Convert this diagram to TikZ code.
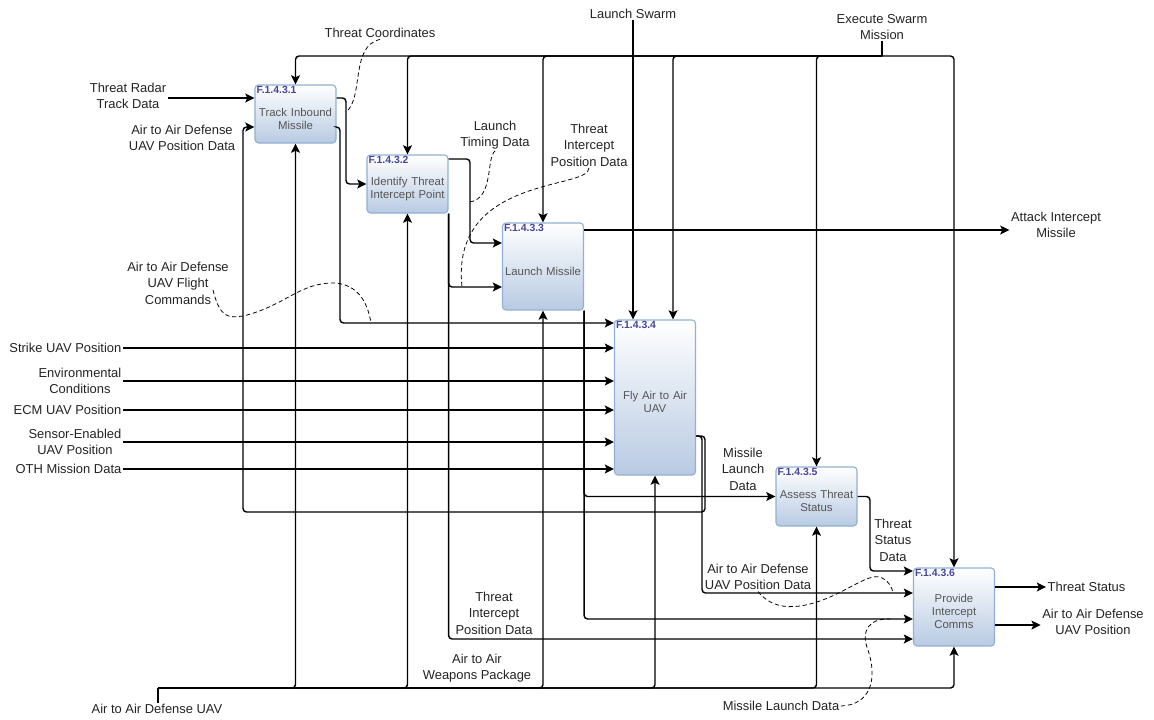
\documentclass[tikz,border=0pt]{standalone}
\usepackage{fontspec}
\setmainfont{Liberation Sans}
\usetikzlibrary{arrows.meta}

\definecolor{boxline}{RGB}{146,176,214}
\definecolor{boxbottom}{RGB}{184,202,226}
\definecolor{idblue}{RGB}{70,70,158}
\definecolor{boxtext}{RGB}{85,85,85}
\definecolor{lbltext}{RGB}{35,35,35}

\begin{document}
\begin{tikzpicture}[x=0.025cm, y=-0.025cm]
    % Stili
    \tikzstyle{func}=[rectangle, draw=boxline, line width=0.8pt, rounded corners=2.5pt, top color=white, bottom color=boxbottom, text=boxtext, text width=1.95cm, align=center, font=\fontsize{8.1}{9.2}\selectfont, minimum width=2.025cm, inner sep=1pt, execute at begin node=\rule{0pt}{12.5pt}]
    \tikzstyle{fid}=[anchor=north west, text=idblue, font=\fontsize{7.4}{7.6}\selectfont\bfseries, inner sep=1.3pt]
    \tikzstyle{lbl}=[align=center, text=lbltext, font=\fontsize{9.2}{11.7}\selectfont, inner sep=1pt]
    \tikzstyle{flow}=[-{Stealth[length=6.5pt, width=6.3pt, inset=1.4pt]}, line width=1pt, rounded corners=2.5pt]
    \tikzstyle{tie}=[line width=1pt, rounded corners=2.5pt]
    \tikzstyle{squig}=[densely dashed, line width=0.55pt]

    \useasboundingbox (0,0) rectangle (1154,719);

    % Funzioni
    \node[func, minimum height=1.45cm] (b1) at (295.5,114) {Track Inbound\\Missile};
    \node[func, minimum height=1.45cm] (b2) at (407.5,184) {Identify Threat\\Intercept Point};
    \node[func, minimum height=2.175cm] (b3) at (543,266.5) {Launch Missile};
    \node[func, minimum height=3.875cm] (b4) at (655,397.5) {Fly Air to Air\\UAV};
    \node[func, minimum height=1.475cm] (b5) at (816.5,496.5) {Assess Threat\\Status};
    \node[func, minimum height=1.95cm] (b6) at (954,607) {Provide\\Intercept\\Comms};
    \node[fid] (b1id) at (b1.north west) {F.1.4.3.1};
    \node[fid] (b2id) at (b2.north west) {F.1.4.3.2};
    \node[fid] (b3id) at (b3.north west) {F.1.4.3.3};
    \node[fid] (b4id) at (b4.north west) {F.1.4.3.4};
    \node[fid] (b5id) at (b5.north west) {F.1.4.3.5};
    \node[fid] (b6id) at (b6.north west) {F.1.4.3.6};

    % Etichette
    \node[lbl] (lRadar) at (128,96) {Threat Radar\\Track Data};
    \node[lbl] (lPosB1) at (182,138) {Air to Air Defense\\UAV Position Data};
    \node[lbl] (lCoord) at (380,33) {Threat Coordinates};
    \node[lbl] (lTiming) at (495,135) {Launch\\Timing Data};
    \node[lbl] (lTIP1) at (589,145) {Threat\\Intercept\\Position Data};
    \node[lbl] (lSwarm) at (633,14) {Launch Swarm};
    \node[lbl] (lExec) at (882,27) {Execute Swarm\\Mission};
    \node[lbl] (lAttack) at (1056,225) {Attack Intercept\\Missile};
    \node[lbl] (lFlight) at (178,283) {Air to Air Defense\\UAV Flight\\Commands};
    \node[lbl, anchor=east] (lStrike) at (123,348) {Strike UAV Position};
    \node[lbl, anchor=east] (lEnv) at (123,381) {Environmental\\Conditions};
    \node[lbl, anchor=east] (lECM) at (123,410) {ECM UAV Position};
    \node[lbl, anchor=east] (lSensor) at (123,442) {Sensor-Enabled\\UAV Position};
    \node[lbl, anchor=east] (lOTH) at (123,469) {OTH Mission Data};
    \node[lbl] (lMLD1) at (743,469) {Missile\\Launch\\Data};
    \node[lbl] (lTSD) at (893,540) {Threat\\Status\\Data};
    \node[lbl] (lPosB6) at (758,577) {Air to Air Defense\\UAV Position Data};
    \node[lbl, anchor=west] (lTS) at (1046,587) {Threat Status};
    \node[lbl] (lPosOut) at (1093,622) {Air to Air Defense\\UAV Position};
    \node[lbl] (lTIP2) at (494,613) {Threat\\Intercept\\Position Data};
    \node[lbl] (lWeapons) at (477,668) {Air to Air\\Weapons Package};
    \node[lbl] (lMLD2) at (781,706) {Missile Launch Data};
    \node[lbl] (lUAV) at (157,709) {Air to Air Defense UAV};

    % Punti di aggancio
    \coordinate (cExec) at (882,56);
    \coordinate (cUAV) at (158,688);
    \coordinate (sCoord) at (346,112);
    \coordinate (sTiming) at (470,202);
    \coordinate (sTIP1) at (462,287);
    \coordinate (sFlightA) at (213,290);
    \coordinate (sFlight) at (371,323);
    \coordinate (sPosB6) at (893,593);
    \coordinate (sMLD2) at (890,619);

    % Controlli dall'alto
    \draw[tie] (lExec.south) -- (cExec);
    \draw[flow] (cExec) -| (b1.north);
    \draw[flow] (cExec) -| (b2.north);
    \draw[flow] (cExec) -| (b3.north);
    \draw[flow] (cExec) -| (b4.north -| 673,0);
    \draw[flow] (cExec) -| (b5.north);
    \draw[flow] (cExec) -| (b6.north);
    \draw[flow] (lSwarm.south) -- (lSwarm.south |- b4.north);

    % Ingressi
    \draw[flow] (lRadar.east |- 0,98) -- (b1.west |- 0,98);
    \draw[flow] (lStrike.east) -- (lStrike.east -| b4.west);
    \draw[flow] (lEnv.east) -- (lEnv.east -| b4.west);
    \draw[flow] (lECM.east) -- (lECM.east -| b4.west);
    \draw[flow] (lSensor.east) -- (lSensor.east -| b4.west);
    \draw[flow] (lOTH.east) -- (lOTH.east -| b4.west);

    % Frecce tra funzioni
    \draw[flow] (b1.east |- 0,98) -| (b2.west -| 346,0) -- (b2.west);
    \draw[flow] (b1.east |- 0,127) -| (340,323) -- (b4.west |- 0,323);
    \draw[flow] (b2.east |- 0,159) -| (470,243) -- (b3.west |- 0,243);
    \draw[flow] (b2.south east) |- (b3.west |- 0,287);
    \draw[flow] (b2.south east) |- (b6.west |- 0,639);
    \draw[flow] (b3.south east) |- (b5.west);
    \draw[flow] (b3.south east) |- (b6.west |- 0,619);
    \draw[flow] (b4.east |- 0,436) -| (705,512) -| (243,127) -- (b1.west |- 0,127);
    \draw[flow] (b4.east |- 0,436) -| (702,593) -- (b6.west |- 0,593);
    \draw[flow] (b5.east) -| (870,571) -- (b6.west |- 0,571);

    % Uscite
    \draw[flow] (b3.east |- 0,230) -- (lAttack.west |- 0,230);
    \draw[flow] (b6.east |- lTS) -- (lTS.west);
    \draw[flow] (b6.east |- 0,625) -- (lPosOut.west |- 0,625);

    % Meccanismi dal basso
    \draw[tie] (lUAV.north -| cUAV) -- (cUAV);
    \draw[flow] (cUAV) -| (b1.south);
    \draw[flow] (cUAV) -| (b2.south);
    \draw[flow] (cUAV) -| (b3.south);
    \draw[flow] (cUAV) -| (b4.south);
    \draw[flow] (cUAV) -| (b5.south);
    \draw[flow] (cUAV) -| (b6.south);

    % Richiami tratteggiati
    \draw[squig] (lCoord.south) .. controls (350,46) and (364,98) .. (sCoord);
    \draw[squig] (lTiming.south) .. controls (486,158) and (494,198) .. (sTiming);
    \draw[squig] (lTIP1.south) .. controls (590,190) and (450,175) .. (sTIP1);
    \draw[squig] (sFlightA) .. controls (220,318) and (228,318) .. (243,316) .. controls (285,306) and (300,282) .. (335,283) .. controls (360,285) and (368,305) .. (sFlight);
    \draw[squig] (lPosB6.south) .. controls (770,606) and (785,608) .. (800,606) .. controls (840,600) and (868,570) .. (882,578) .. controls (890,582) and (892,588) .. (sPosB6);
    \draw[squig] (lMLD2.east) .. controls (870,705) and (878,680) .. (868,650) .. controls (860,630) and (870,618) .. (sMLD2);
\end{tikzpicture}
\end{document}
